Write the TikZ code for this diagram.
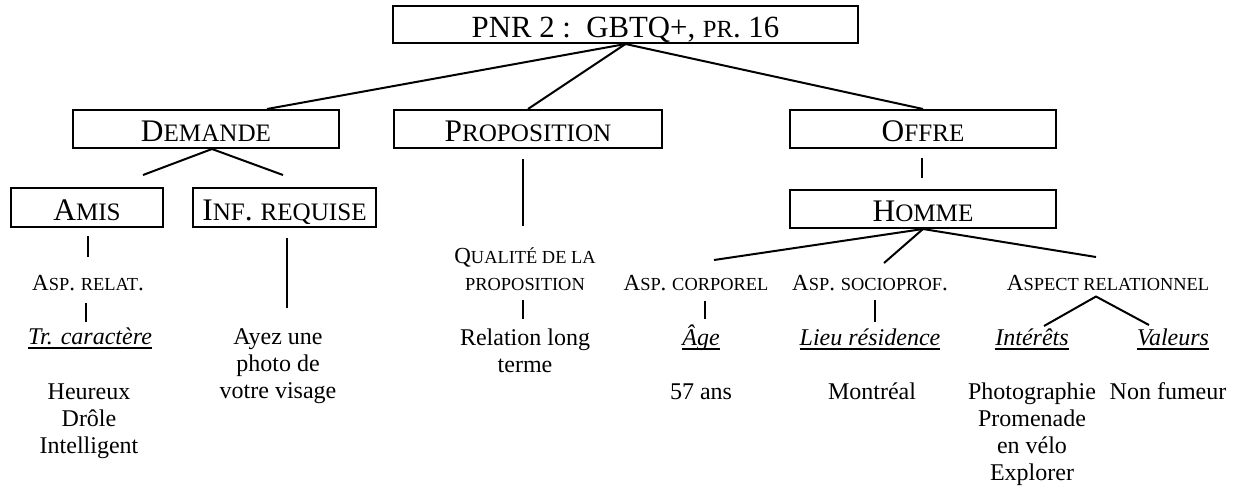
\documentclass[tikz,border=0pt]{standalone}
\usepackage{fontspec}
\setmainfont{Liberation Serif}
\usetikzlibrary{calc}

% faked small capitals at 80 % of the running size
\newcommand\tsc[1]{{\fontsize{12.32}{14}\selectfont #1}}
\newcommand\bsc[1]{{\fontsize{12.56}{14}\selectfont #1}}
\newcommand\lsc[1]{{\fontsize{9.2}{13.5}\selectfont #1}}
% underline at a fixed depth below the baseline
\newcommand\ul[1]{\setbox0\hbox{#1}\rlap{\rule[-2.4pt]{\wd0}{0.8pt}}\box0}
% centred multi-line text, first line on the node's baseline
\newcommand\ml[1]{\begin{tabular}[t]{@{}c@{}}#1\end{tabular}}

\tikzset{
  box/.style={draw, line width=1pt, inner sep=0pt, text height=12.5pt, text depth=0pt,
              font=\fontsize{15.7}{18}\selectfont},
  lab/.style={anchor=base, inner sep=0pt, font=\fontsize{11.5}{13.5}\selectfont},
  txt/.style={anchor=base, inner sep=0pt, font=\fontsize{12}{13.5}\selectfont},
  cat/.style={anchor=base, inner sep=0pt, font=\fontsize{12}{13.5}\selectfont\itshape},
  link/.style={line width=1pt},
}

\begin{document}
\begin{tikzpicture}[x=0.5pt,y=-0.5pt]
\fill[white] (0,0) rectangle (1242,489);
\useasboundingbox (0,0) rectangle (1242,489);

% boxed categories
\node[box, minimum width=232.5pt, minimum height=18.5pt, font=\fontsize{15.4}{18}\selectfont]
  (title) at (625.5,24.5) {PNR~2~:\hspace{0.5em}GBTQ+, \tsc{PR}. 16};
\node[box, minimum width=133pt, minimum height=19pt] (dem)  at (206,129)   {D\bsc{EMANDE}};
\node[box, minimum width=134pt, minimum height=19pt] (prop) at (528,129)   {P\bsc{ROPOSITION}};
\node[box, minimum width=133pt, minimum height=19pt] (off)  at (923,129)   {O\bsc{FFRE}};
\node[box, minimum width=76pt,  minimum height=19.5pt] (amis) at (87,207.5)  {A\bsc{MIS}};
\node[box, minimum width=91.5pt, minimum height=19.5pt] (inf) at (284.5,207.5) {I\bsc{NF}. \bsc{REQUISE}};
\node[box, minimum width=133pt, minimum height=19pt] (hom)  at (923,209)   {H\bsc{OMME}};

% aspects
\node[lab] (asprel)   at (88,290)   {\ml{A\lsc{SP}. \lsc{RELAT}.}};
\node[lab] (qual)     at (525,263)  {\ml{Q\lsc{UALITÉ DE LA}\\\lsc{PROPOSITION}}};
\node[lab] (aspcorp)  at (696,290)  {\ml{A\lsc{SP}. \lsc{CORPOREL}}};
\node[lab] (aspsoc)   at (870,290)  {\ml{A\lsc{SP}. \lsc{SOCIOPROF}.}};
\node[lab] (asprelat) at (1108,290) {\ml{A\lsc{SPECT RELATIONNEL}}};

% sub-categories
\node[cat] (trc)  at (90,344)   {\ml{\ul{Tr. caractère}}};
\node[txt] (ayez) at (278,344)  {\ml{Ayez une\\photo de\\votre visage}};
\node[txt] (rel)  at (525,345)  {\ml{Relation long\\terme}};
\node[cat] (age)  at (701,345)  {\ml{\ul{Âge}}};
\node[cat] (lieu) at (870,345)  {\ml{\ul{Lieu résidence}}};
\node[cat] (int)  at (1032,345) {\ml{\ul{Intérêts}}};
\node[cat] (val)  at (1173,345) {\ml{\ul{Valeurs}}};

% values
\node[txt] (heur)  at (89,399)   {\ml{Heureux\\Drôle\\Intelligent}};
\node[txt] (ans)   at (701,399)  {\ml{57 ans}};
\node[txt] (mtl)   at (872,399)  {\ml{Montréal}};
\node[txt] (photo) at (1032,399) {\ml{Photographie\\Promenade\\en vélo\\Explorer}};
\node[txt] (nonf)  at (1168,399) {\ml{Non fumeur}};

% free ends of the short branches
\coordinate (dl) at (143,175);
\coordinate (dr) at (283,175);
\coordinate (h1) at (714,260);
\coordinate (h2) at (884,263);
\coordinate (h3) at (1096,257);
\coordinate (r1) at (1044,326);
\coordinate (r2) at (1149,325);

% branches from the title
\draw[link] (title.south) -- ([xshift=30.5pt]dem.north);
\draw[link] (title.south) -- (prop.north);
\draw[link] (title.south) -- (off.north);

% Demande
\draw[link] (dl) -- ([xshift=3pt]dem.south) -- (dr);
\draw[link, shorten <=4pt, shorten >=7pt]
  ($(amis.south)+(1,0)$) -- ($(asprel.north -| amis.south)+(1,0)$);
\draw[link, shorten <=2pt, shorten >=1.5pt]
  ($(asprel.south)+(-2,0)$) -- ($(trc.north -| asprel.south)+(-2,0)$);
\draw[link, shorten <=5pt, shorten >=8.5pt]
  ($(inf.south)+(2.5,0)$) -- ($(ayez.north -| inf.south)+(2.5,0)$);

% Proposition
\draw[link, shorten <=5pt, shorten >=9pt]
  ($(prop.south)+(-5,0)$) -- ($(qual.north -| prop.south)+(-5,0)$);
\draw[link, shorten <=0.5pt, shorten >=3.5pt]
  ($(qual.south)+(-2,0)$) -- ($(rel.north -| qual.south)+(-2,0)$);

% Offre
\draw[link, shorten <=4.5pt, shorten >=5.5pt]
  ($(off.south)+(-1,0)$) -- ($(hom.north -| off.south)+(-1,0)$);
\draw[link] (hom.south) -- (h1);
\draw[link] (hom.south) -- (h2);
\draw[link] (hom.south) -- (h3);
\draw[link, shorten <=1pt, shorten >=2.5pt]
  ($(aspcorp.south)+(9,0)$) -- ($(age.north -| aspcorp.south)+(9,0)$);
\draw[link, shorten <=0.5pt, shorten >=2pt]
  ($(aspsoc.south)+(5,0)$) -- ($(lieu.north -| aspsoc.south)+(5,0)$);
\draw[link] (r1) -- ($(asprelat.south)+(-12,-2)$) -- (r2);
\end{tikzpicture}
\end{document}
